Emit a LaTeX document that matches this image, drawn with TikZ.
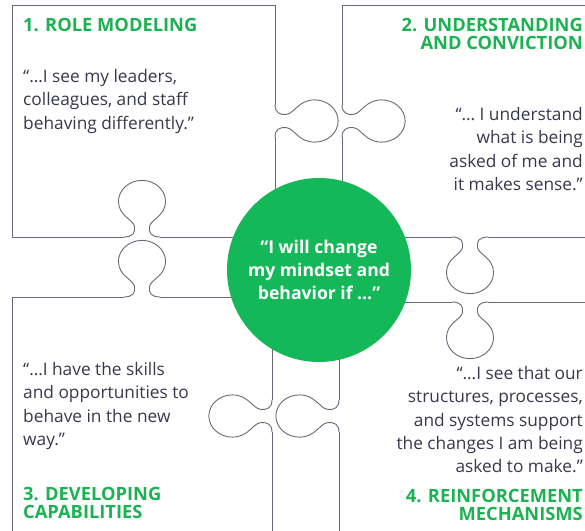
\documentclass[tikz,border=0pt]{standalone}
\usepackage{fontspec}
\setmainfont{Open Sans}
\definecolor{edge}{RGB}{104,104,120}
\definecolor{ink}{RGB}{55,55,78}
\definecolor{hgreen}{RGB}{28,178,82}
\definecolor{cgreen}{RGB}{20,184,88}
\tikzset{
  puzzle/.style={draw=edge, line width=0.9pt},
  body/.style={text=ink, font=\fontsize{17.3}{23.4}\selectfont, inner sep=0pt},
  head/.style={text=hgreen, font=\bfseries\fontsize{18.3}{18.5}\selectfont, inner sep=0pt},
  hubtext/.style={text=white, font=\bfseries\fontsize{17.6}{23.3}\selectfont, align=center}
}
% #1 name, #2 origin on the edge, #3 outward unit vector, #4 along-edge unit vector
\newcommand\puzzletab[4]{%
  \begin{scope}[shift={#2}, x={#3}, y={#4}]
    \draw[puzzle] (0,-17) .. controls (0,-9) and (4,-6) .. (11,-7)
      .. controls (18,-8) and (22,-22) .. (37,-22)
      .. controls (49.15,-22) and (59,-12.15) .. (59,0)
      .. controls (59,12.15) and (49.15,22) .. (37,22)
      .. controls (22,22) and (18,8) .. (11,7)
      .. controls (4,6) and (0,9) .. (0,17);
    \coordinate (#1s) at (0,-17);
    \coordinate (#1e) at (0,17);
  \end{scope}}
\begin{document}
\begin{tikzpicture}[x=1pt, y=-1pt]
\useasboundingbox (0,0) rectangle (585,530);
\clip (0,0) rectangle (585,530);
% tabs (t) and sockets (s)
\puzzletab{tA}{(275,121)}{(1.07pt,0pt)}{(0pt,-0.96pt)}
\puzzletab{sA}{(342,121)}{(1.07pt,0pt)}{(0pt,-0.96pt)}
\puzzletab{tB}{(142,297)}{(0pt,0.96pt)}{(1.07pt,0pt)}
\puzzletab{sB}{(142,237)}{(0pt,0.96pt)}{(1.07pt,0pt)}
\puzzletab{tC}{(339,416)}{(-1.07pt,0pt)}{(0pt,-0.96pt)}
\puzzletab{sC}{(272,416)}{(-1.07pt,0pt)}{(0pt,-0.96pt)}
\puzzletab{tD}{(470,237)}{(0pt,-0.96pt)}{(1.07pt,0pt)}
\puzzletab{sD}{(470,302)}{(0pt,-0.96pt)}{(1.07pt,0pt)}
% piece 1
\draw[puzzle] (tAe) -- (275,237) -- (sBe);
\draw[puzzle] (sBs) -- (12,237) -- (12,5) -- (275,5) -- (tAs);
% piece 2
\draw[puzzle] (sAs) -- (342,5) -- (600,5);
\draw[puzzle] (sAe) -- (342,237) -- (tDs);
\draw[puzzle] (tDe) -- (600,237);
% piece 3
\draw[puzzle] (sCe) -- (272,540);
\draw[puzzle] (sCs) -- (272,297) -- (tBe);
\draw[puzzle] (tBs) -- (12,297) -- (12,540);
% piece 4
\draw[puzzle] (tCs) -- (339,302) -- (sDs);
\draw[puzzle] (sDe) -- (600,302);
\draw[puzzle] (tCe) -- (339,540);
% hub
\node[circle, fill=cgreen, minimum size=184pt, inner sep=0pt, hubtext] (hub) at (319,270)
  {“I will change\\my mindset and\\behavior if …”};
% texts
\node[head, anchor=north west] (h1) at (23,18) {1. ROLE MODELING};
\node[body, anchor=north west, align=left] (b1) at (23,69)
  {“…I see my leaders,\\colleagues, and staff\\behaving differently.”};
\node[head, anchor=north east, align=right] (h2) at (583,18) {2. UNDERSTANDING\\AND CONVICTION};
\node[body, anchor=north east, align=right] (b2) at (583,107)
  {“… I understand\\what is being\\asked of me and\\it makes sense.”};
\node[body, anchor=north west, align=left] (b3) at (23,362)
  {“…I have the skills\\and opportunities to\\behave in the new\\way.”};
\node[head, anchor=north west, align=left] (h3) at (23,487) {3. DEVELOPING\\CAPABILITIES};
\node[body, anchor=north east, align=right] (b4) at (583,366)
  {“…I see that our\\structures, processes,\\and systems support\\the changes I am being\\asked to make.”};
\node[head, anchor=north east, align=right] (h4) at (583,489) {4. REINFORCEMENT\\MECHANISMS};
\end{tikzpicture}
\end{document}
